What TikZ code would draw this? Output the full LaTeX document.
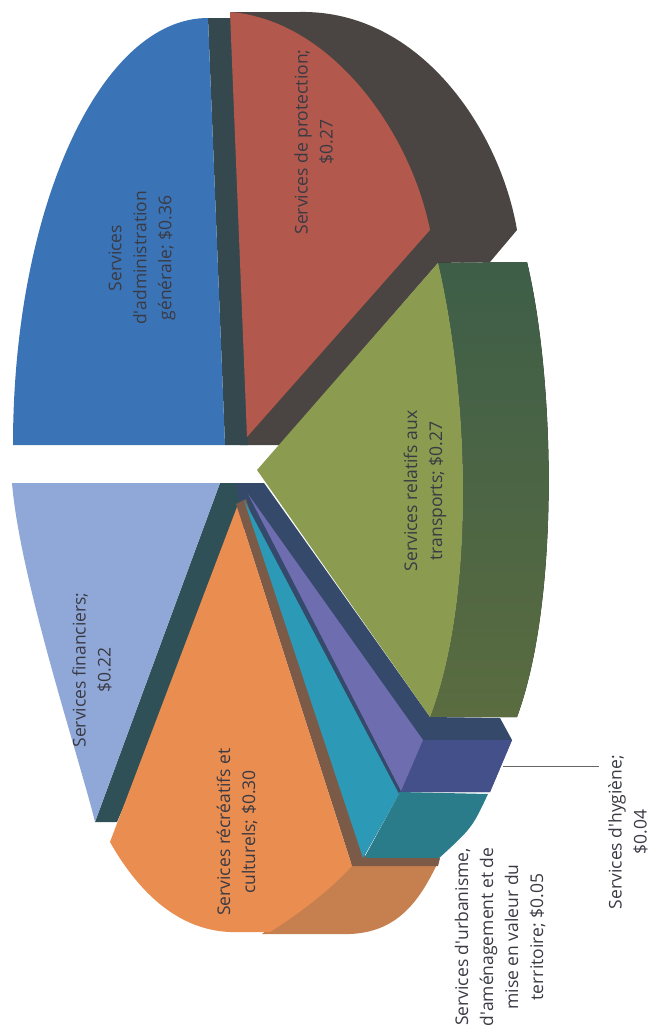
\documentclass[tikz,border=0pt]{standalone}
\usepackage{fontspec}
\setmainfont{Open Sans}
\usepackage{xcolor}
\usepackage{tikz}
\usetikzlibrary{positioning}

\definecolor{adminblue}{HTML}{3A74B6}
\definecolor{blueside}{HTML}{34484E}
\definecolor{protred}{HTML}{B3584C}
\definecolor{redside}{HTML}{4A4542}
\definecolor{transgreen}{HTML}{8B9B4F}
\definecolor{greentop}{HTML}{3E5E48}
\definecolor{greenbot}{HTML}{5A6C40}
\definecolor{finblue}{HTML}{90A8D8}
\definecolor{finside}{HTML}{2F5057}
\definecolor{recorange}{HTML}{E98D50}
\definecolor{orangeside}{HTML}{C67F4E}
\definecolor{brownstrip}{HTML}{7C5A48}
\definecolor{urbcyan}{HTML}{2C9AB6}
\definecolor{tealside}{HTML}{2A7C8A}
\definecolor{hygpurple}{HTML}{6E6DAF}
\definecolor{navytop}{HTML}{35496B}
\definecolor{navyfront}{HTML}{43508A}
\definecolor{labelgray}{HTML}{3A3A44}

\begin{document}
\begin{tikzpicture}[x=1pt,y=-1pt,
  lbl/.style={font=\fontsize{17.5}{25}\selectfont, text=labelgray, align=center, rotate=90, inner sep=0pt},
  leader/.style={draw=gray!80!black, line width=0.8pt}]
\useasboundingbox (0,0) rectangle (655,1036);
% side faces
\fill[redside] (230,12) -- (300,12) .. controls (420,10) and (500,130) .. (517,230) -- (490,262) -- (438,263) -- (280,445) -- (240,445) -- cycle;
\fill[blueside] (208,18) -- (231,18) -- (248,445) -- (225,445) -- cycle;
\fill[top color=greentop, bottom color=greenbot] (438,263) -- (527,262) .. controls (555,380) and (560,600) .. (517,717) -- (430,717) .. controls (475,600) and (470,400) .. (438,263) -- cycle;
\fill[finside] (220,483) -- (264,483) -- (117,822) -- (95,822) -- cycle;
\fill[navytop] (236,483) -- (264,483) -- (430,717) -- (500,718) -- (512,740) -- (490,792) -- (400,792) -- (363,858) -- (240,505) -- cycle;
\fill[navyfront] (423,740) -- (512,740) -- (490,792) -- (400,792) -- cycle;
\fill[tealside] (400,792) -- (488,794) .. controls (472,828) .. (437,860) -- (363,860) -- cycle;
\fill[orangeside] (352,862) -- (438,862) .. controls (418,905) and (395,932) .. (350,934) -- (262,934) -- cycle;
\fill[brownstrip] (236,504) -- (246,499) -- (366,858) -- (440,858) -- (438,866) -- (352,866) -- cycle;
% top faces
\fill[adminblue] (208,18) -- (225,445) -- (13,445) .. controls (13,209) and (100,18) .. (208,18) -- cycle;
\fill[protred] (230,12) .. controls (330,20) and (410,130) .. (430,230) -- (247,437) -- cycle;
\fill[transgreen] (257,470) -- (438,263) .. controls (470,400) and (475,600) .. (430,717) -- cycle;
\fill[finblue] (12,483) -- (220,483) -- (95,822) .. controls (80,760) and (20,580) .. (12,483) -- cycle;
\fill[recorange] (237,507) -- (110,842) .. controls (140,895) and (180,930) .. (230,932) -- (270,932) .. controls (305,910) and (335,885) .. (352,866) -- cycle;
\fill[urbcyan] (244,500) -- (363,858) -- (399,794) -- cycle;
\fill[hygpurple] (248,494) -- (401,791) -- (423,740) -- cycle;
% labels
\node[lbl] (admin) at (142,258) {Services\\d\textquotesingle administration\\générale; \$0.36};
\node[lbl] (protect) at (314,142) {Services de protection;\\\$0.27};
\node[lbl] (transp) at (425,491) {Services relatifs aux\\transports; \$0.27};
\node[lbl] (fin) at (92,670) {Services financiers;\\\$0.22};
\node[lbl] (recr) at (237,832) {Services récréatifs et\\culturels; \$0.30};
\node[lbl] (urb) at (500,937) {Services d\textquotesingle urbanisme,\\d\textquotesingle aménagement et de\\mise en valeur du\\territoire; \$0.05};
\node[lbl] (hyg) at (628,832) {Services d\textquotesingle hygiène;\\\$0.04};
\coordinate (hygtip) at (503,766);
\coordinate (hygend) at (599,766);
\draw[leader] (hygtip) -- (hygend);
\end{tikzpicture}
\end{document}
